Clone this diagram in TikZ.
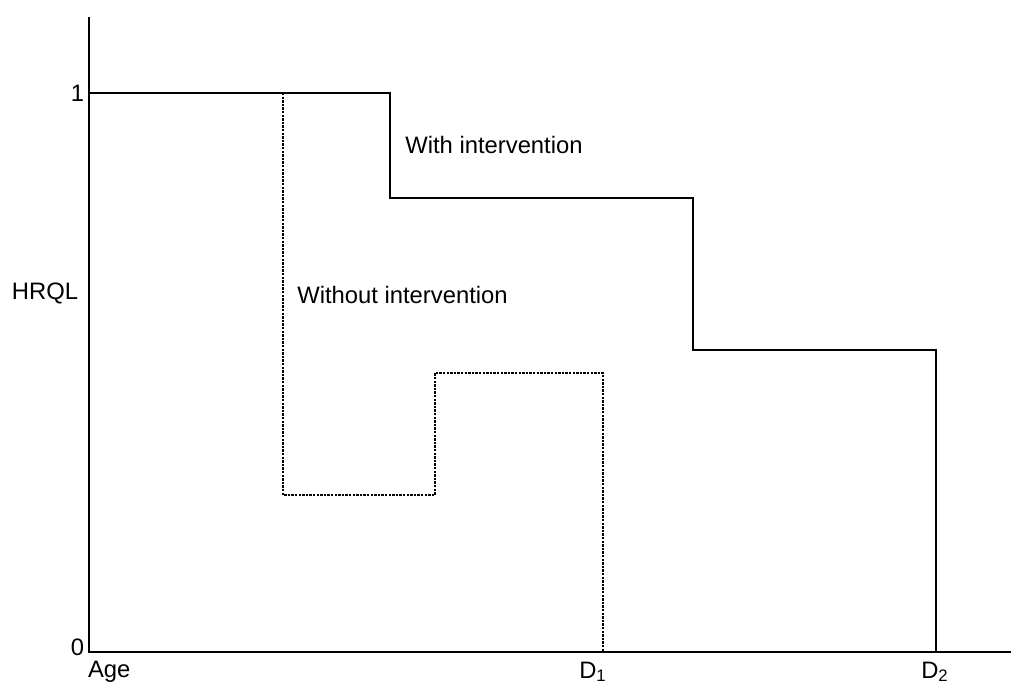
\documentclass[tikz,border=0pt]{standalone}
\usepackage{fontspec}
\setmainfont{Liberation Sans}
\usepackage{tikz}
\usetikzlibrary{positioning}

\begin{document}
\begin{tikzpicture}[%
  x=0.5pt, y=0.5pt,
  every node/.append style={%
    font=\fontsize{11.9}{14}\selectfont,
    inner sep=0pt,
    outer sep=0pt,
  },
  axisline/.style={black, line width=1pt},
  withline/.style={black, line width=1pt},
  withoutline/.style={black, line width=1.3pt, dash pattern=on 1.2pt off 0.6pt},
  ]
  \useasboundingbox (-89,-32) rectangle (922,652);
% axes
  \coordinate (O) at (0,0);
  \coordinate (Ytop) at (0,635);
  \coordinate (Xend) at (922,0);
  \draw[axisline] (Ytop) -- (O) -- (Xend);
% axis labels
  \node[anchor=east] (one) at (-5,559) {1};
  \node[anchor=east] (zero) at (-5,5) {0};
  \node (hrql) at (-44,359) {HRQL};
  \node[anchor=west] (age) at (-1,-20) {Age};
  \node (d1) at (504,-20) {D\textsubscript{1}};
  \node (d2) at (846,-20) {D\textsubscript{2}};
% with intervention
  \draw[withline] (0,559) -- (301,559) -- (301,454) -- (604,454)
    -- (604,302) -- (847,302) -- (847,0);
  \node (with) at (405,507) {With intervention};
% without intervention
  \draw[withoutline] (194,559) -- (194,157) -- (346,157) -- (346,279)
    -- (514,279) -- (514,0);
  \node (without) at (313.5,357) {Without intervention};
\end{tikzpicture}
\end{document}
